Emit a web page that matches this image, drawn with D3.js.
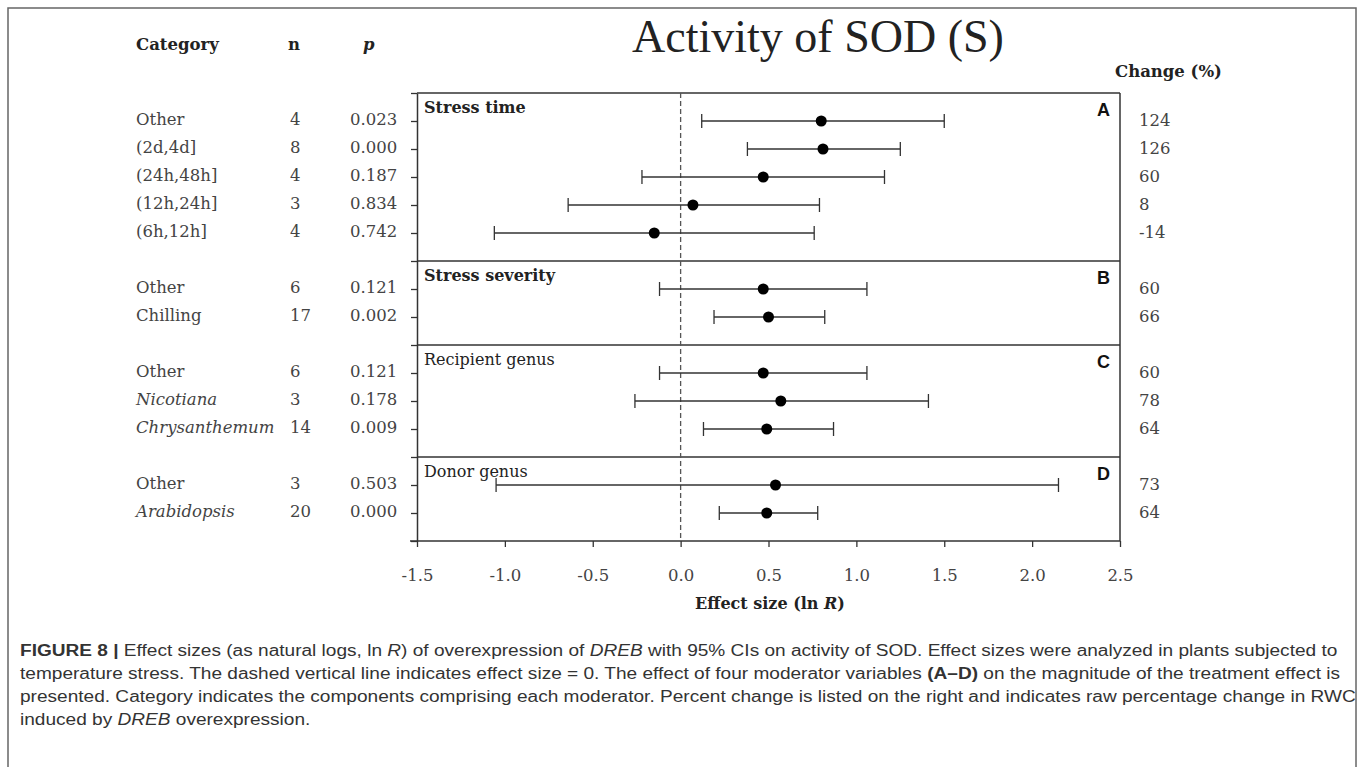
<!DOCTYPE html>
<html>
<head>
<meta charset="utf-8">
<script src="https://cdn.jsdelivr.net/npm/d3@7"></script>
<style>
  body { margin: 0; background: #fff; }
  svg { display: block; }
</style>
</head>
<body>
<svg id="chart" width="1358" height="767"></svg>
<script>
// moderator groups (A-D)
var groupNames = ["Stress time", "Stress severity", "Recipient genus", "Donor genus"];
var groupLetters = ["A", "B", "C", "D"];
var groupBold = [true, true, false, false];

// one entry per row, top to bottom
var categories = ["Other", "(2d,4d]", "(24h,48h]", "(12h,24h]", "(6h,12h]",
                  "Other", "Chilling",
                  "Other", "Nicotiana", "Chrysanthemum",
                  "Other", "Arabidopsis"];
var rowGroup = [0, 0, 0, 0, 0, 1, 1, 2, 2, 2, 3, 3];
var italicName = [false, false, false, false, false, false, false, false, true, true, false, true];
var nValues = [4, 8, 4, 3, 4, 6, 17, 6, 3, 14, 3, 20];
var pValues = ["0.023", "0.000", "0.187", "0.834", "0.742", "0.121", "0.002", "0.121", "0.178", "0.009", "0.503", "0.000"];
var effect = [0.80, 0.81, 0.47, 0.07, -0.15, 0.47, 0.50, 0.47, 0.57, 0.49, 0.54, 0.49];
var ciLow  = [0.12, 0.38, -0.22, -0.64, -1.06, -0.12, 0.19, -0.12, -0.26, 0.13, -1.05, 0.22];
var ciHigh = [1.50, 1.25, 1.16, 0.79, 0.76, 1.06, 0.82, 1.06, 1.41, 0.87, 2.15, 0.78];
var changePct = ["124", "126", "60", "8", "-14", "60", "66", "60", "78", "64", "73", "64"];
var xTicks = [-1.5, -1.0, -0.5, 0.0, 0.5, 1.0, 1.5, 2.0, 2.5];

var serif = "'DejaVu Serif', serif";
var times = "'Liberation Serif', 'Times New Roman', serif";
var sans = "'Liberation Sans', Arial, sans-serif";
var ink = "#333";

var svg = d3.select("#chart");

// outer frame (runs off the bottom like the journal figure box)
svg.append("rect")
    .attr("x", 8).attr("y", 8)
    .attr("width", 1348).attr("height", 820)
    .attr("fill", "none").attr("stroke", "#666").attr("stroke-width", 1.5);

var plot = {left: 417, right: 1120, top: 93, bottom: 541};

var x = d3.scaleLinear().domain([-1.5, 2.5]).range([plot.left, plot.right]);
// each row sits in one slot, each group boundary takes one slot too
var y = d3.scaleLinear().domain([0, 16]).range([plot.top, plot.bottom]);

function slotOf(i) { return i + rowGroup[i] + 1; }
var groupStart = groupNames.map(function(g, gi) { return rowGroup.indexOf(gi) + gi; });

// title
svg.append("text")
    .attr("x", 818).attr("y", 52)
    .attr("text-anchor", "middle")
    .style("font-family", times).style("font-size", "46px")
    .style("fill", "#222")
    .text("Activity of SOD (S)");

// column headers
var hdr = svg.append("g").style("font-family", serif).style("font-weight", "bold")
    .style("font-size", "16.5px").style("fill", "#222");
hdr.append("text").attr("x", 136).attr("y", 50).text("Category");
hdr.append("text").attr("x", 288).attr("y", 50).text("n");
hdr.append("text").attr("x", 363).attr("y", 50).style("font-style", "italic").text("p");
hdr.append("text").attr("x", 1115).attr("y", 77).text("Change (%)");

// left axis (ticks at every slot)
svg.append("g")
    .attr("transform", "translate(" + plot.left + ",0)")
    .call(d3.axisLeft(y).tickValues(d3.range(0, 17)).tickSize(6).tickSizeOuter(0).tickFormat(""))
    .call(function(g) {
        g.selectAll("line").attr("stroke", ink).attr("stroke-width", 1.3);
        g.select(".domain").attr("stroke", ink).attr("stroke-width", 1.5);
    });

// bottom axis
svg.append("g")
    .attr("transform", "translate(0," + plot.bottom + ")")
    .call(d3.axisBottom(x).tickValues(xTicks).tickSize(6).tickSizeOuter(0)
        .tickFormat(function(d) { return d.toFixed(1); }))
    .call(function(g) {
        g.select(".domain").remove();
        g.selectAll("line").attr("stroke", ink).attr("stroke-width", 1.3);
        g.selectAll("text").attr("y", 28)
            .style("font-family", serif).style("font-size", "16.5px").style("fill", "#444");
    });
svg.append("line")
    .attr("x1", plot.left - 7).attr("x2", plot.right)
    .attr("y1", plot.bottom).attr("y2", plot.bottom)
    .attr("stroke", ink).attr("stroke-width", 1.5);

svg.append("text")
    .attr("x", 770).attr("y", 609)
    .attr("text-anchor", "middle")
    .style("font-family", serif).style("font-weight", "bold").style("font-size", "16px")
    .style("fill", "#222")
    .html("Effect size (ln <tspan font-style='italic'>R</tspan>)");

// box: top, right and group dividers
svg.append("line")
    .attr("x1", plot.left).attr("x2", plot.right).attr("y1", plot.top).attr("y2", plot.top)
    .attr("stroke", ink).attr("stroke-width", 1.5);
svg.append("line")
    .attr("x1", plot.right).attr("x2", plot.right).attr("y1", plot.top).attr("y2", plot.bottom)
    .attr("stroke", ink).attr("stroke-width", 1.5);
svg.selectAll(".divider").data(groupStart.slice(1))
    .enter().append("line")
    .attr("class", "divider")
    .attr("x1", plot.left).attr("x2", plot.right)
    .attr("y1", function(d) { return y(d); }).attr("y2", function(d) { return y(d); })
    .attr("stroke", ink).attr("stroke-width", 1.5);

// zero line
svg.append("line")
    .attr("x1", x(0)).attr("x2", x(0))
    .attr("y1", plot.top).attr("y2", plot.bottom)
    .attr("stroke", "#555").attr("stroke-width", 1.3)
    .attr("stroke-dasharray", "5,3");

// group headers and panel letters
svg.selectAll(".ghead").data(groupNames)
    .enter().append("text")
    .attr("class", "ghead")
    .attr("x", plot.left + 7)
    .attr("y", function(d, i) { return y(groupStart[i]) + 20; })
    .style("font-family", serif).style("font-size", "16px")
    .style("font-weight", function(d, i) { return groupBold[i] ? "bold" : "normal"; })
    .style("fill", "#222")
    .text(function(d) { return d; });
svg.selectAll(".gletter").data(groupLetters)
    .enter().append("text")
    .attr("class", "gletter")
    .attr("x", plot.right - 10)
    .attr("y", function(d, i) { return y(groupStart[i]) + 23; })
    .attr("text-anchor", "end")
    .style("font-family", sans).style("font-weight", "bold").style("font-size", "18px")
    .style("fill", "#111")
    .text(function(d) { return d; });

// table columns
var rows = d3.range(categories.length);
var tbl = svg.append("g").style("font-family", serif).style("font-size", "16.5px").style("fill", "#444");
tbl.selectAll(".cat").data(rows).enter().append("text")
    .attr("x", 136).attr("y", function(i) { return y(slotOf(i)) + 4; })
    .style("font-style", function(i) { return italicName[i] ? "italic" : "normal"; })
    .text(function(i) { return categories[i]; });
tbl.selectAll(".nval").data(rows).enter().append("text")
    .attr("x", 290).attr("y", function(i) { return y(slotOf(i)) + 4; })
    .text(function(i) { return nValues[i]; });
tbl.selectAll(".pval").data(rows).enter().append("text")
    .attr("x", 350).attr("y", function(i) { return y(slotOf(i)) + 4; })
    .text(function(i) { return pValues[i]; });
tbl.selectAll(".chg").data(rows).enter().append("text")
    .attr("x", 1139).attr("y", function(i) { return y(slotOf(i)) + 5; })
    .text(function(i) { return changePct[i]; });

// confidence intervals
var bars = svg.append("g").attr("stroke", ink).attr("stroke-width", 1.3);
bars.selectAll(".ci").data(rows).enter().append("line")
    .attr("x1", function(i) { return x(ciLow[i]); })
    .attr("x2", function(i) { return x(ciHigh[i]); })
    .attr("y1", function(i) { return y(slotOf(i)); })
    .attr("y2", function(i) { return y(slotOf(i)); });
bars.selectAll(".capl").data(rows).enter().append("line")
    .attr("x1", function(i) { return x(ciLow[i]); })
    .attr("x2", function(i) { return x(ciLow[i]); })
    .attr("y1", function(i) { return y(slotOf(i)) - 7; })
    .attr("y2", function(i) { return y(slotOf(i)) + 7; });
bars.selectAll(".caph").data(rows).enter().append("line")
    .attr("x1", function(i) { return x(ciHigh[i]); })
    .attr("x2", function(i) { return x(ciHigh[i]); })
    .attr("y1", function(i) { return y(slotOf(i)) - 7; })
    .attr("y2", function(i) { return y(slotOf(i)) + 7; });

svg.selectAll(".dot").data(rows).enter().append("circle")
    .attr("cx", function(i) { return x(effect[i]); })
    .attr("cy", function(i) { return y(slotOf(i)); })
    .attr("r", 5.5)
    .attr("fill", "#000");

// caption
var cap = svg.append("g")
    .style("font-family", sans).style("font-size", "16px").style("fill", "#333");
var capLines = [
    "<tspan font-weight='bold'>FIGURE 8 | </tspan>Effect sizes (as natural logs, ln <tspan font-style='italic'>R</tspan>) of overexpression of <tspan font-style='italic'>DREB</tspan> with 95% CIs on activity of SOD. Effect sizes were analyzed in plants subjected to",
    "temperature stress. The dashed vertical line indicates effect size = 0. The effect of four moderator variables <tspan font-weight='bold'>(A–D)</tspan> on the magnitude of the treatment effect is",
    "presented. Category indicates the components comprising each moderator. Percent change is listed on the right and indicates raw percentage change in RWC",
    "induced by <tspan font-style='italic'>DREB</tspan> overexpression."
];
cap.selectAll("text").data(capLines).enter().append("text")
    .attr("x", 0).attr("y", function(d, i) { return 656 + i * 23; })
    .html(function(d) { return d; });
// squeeze to the condensed width of the journal font
var w0 = cap.select("text").node().getComputedTextLength();
var k = 1318 / w0;
cap.attr("transform", "translate(20,0) scale(" + k + ",1)");
</script>
</body>
</html>
